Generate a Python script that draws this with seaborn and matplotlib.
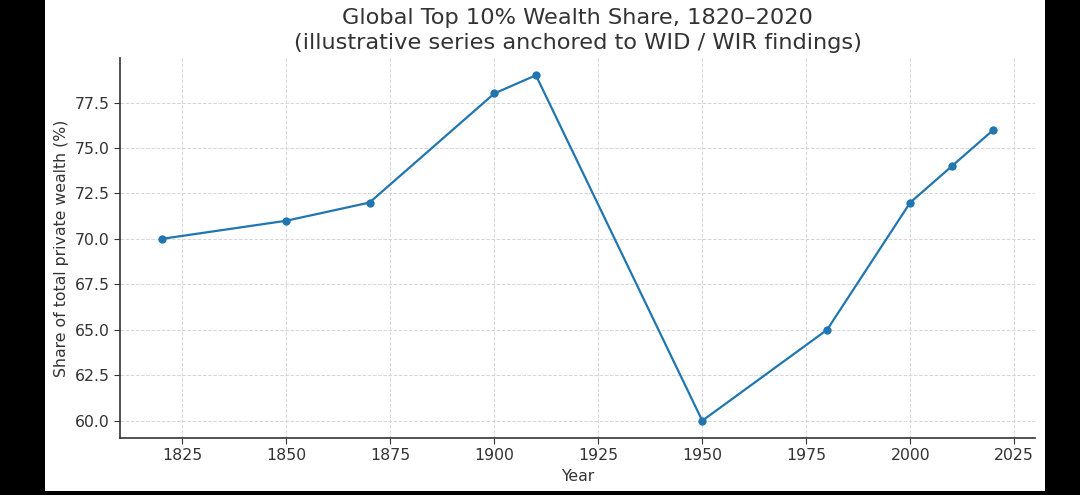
import matplotlib
matplotlib.use("Agg")
import matplotlib.pyplot as plt
import pandas as pd
import seaborn as sns
from matplotlib.patches import Rectangle

# illustrative series
years = [1820, 1850, 1870, 1900, 1910, 1950, 1980, 2000, 2010, 2020]
top10_share = [70, 71, 72, 78, 79, 60, 65, 72, 74, 76]

data = pd.DataFrame({'Year': years, 'Share': top10_share})

sns.set_style('ticks')
plt.rcParams['font.family'] = ['DejaVu Sans']

fig = plt.figure(figsize=(10.8, 4.95), dpi=100, facecolor='black')
# white canvas inside the black frame of the screenshot
fig.patches.append(Rectangle((45 / 1080, 4 / 495), 1000 / 1080, 491 / 495,
                             transform=fig.transFigure, facecolor='white',
                             edgecolor='none', zorder=-10))
ax = fig.add_axes([120 / 1080, 57 / 495, 915 / 1080, 380 / 495])
ax.set_facecolor('white')

sns.lineplot(data=data, x='Year', y='Share', marker='o', markersize=6,
             markeredgewidth=0, color='#2176b0', linewidth=1.6, ax=ax)

ax.grid(True, linestyle='--', linewidth=0.7, color='#cccccc', alpha=0.8)
ax.set_xticks([1825, 1850, 1875, 1900, 1925, 1950, 1975, 2000, 2025])
ax.set_yticks([60.0, 62.5, 65.0, 67.5, 70.0, 72.5, 75.0, 77.5])
ax.tick_params(labelsize=11.3, colors='#333333', length=4)
for s in ['left', 'bottom']:
    ax.spines[s].set_color('#333333')
    ax.spines[s].set_linewidth(1.2)
sns.despine(ax=ax)

ax.set_xlabel('Year', fontsize=11.3, color='#333333')
ax.set_ylabel('Share of total private wealth (%)', fontsize=11.3, color='#333333')
ax.set_title('Global Top 10% Wealth Share, 1820–2020\n'
             '(illustrative series anchored to WID / WIR findings)',
             fontsize=16.2, color='#333333', pad=6.5, linespacing=1.3)

fig.savefig('out.png', dpi=100, facecolor=fig.get_facecolor())
